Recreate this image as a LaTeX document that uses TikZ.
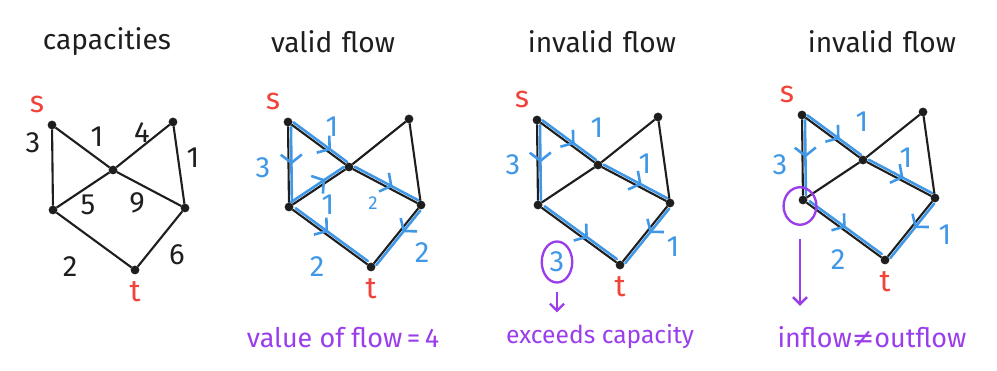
\documentclass[tikz,border=0pt]{standalone}
\usepackage{fontspec}
\setmainfont{Fira Sans}
\newfontfamily\symfont{DejaVu Sans}
\usetikzlibrary{positioning,calc,arrows.meta,decorations.markings,shapes.geometric}

\definecolor{inkblack}{HTML}{1E1E1E}
\definecolor{endred}{HTML}{F0433A}
\definecolor{flowblue}{HTML}{3F97E6}
\definecolor{notepurple}{HTML}{9A3DEB}

\tikzset{
  vtx/.style={circle, draw=inkblack, fill=inkblack, inner sep=0pt, minimum size=7pt},
  edge/.style={draw=inkblack, line width=1.8pt},
  endlbl/.style={text=endred, font=\fontsize{26}{26}\selectfont},
  headline/.style={text=inkblack, font=\fontsize{24}{24}\selectfont},
  capnum/.style={text=inkblack, font=\fontsize{25}{25}\selectfont},
  flownum/.style={text=flowblue, font=\fontsize{25}{25}\selectfont},
  note/.style={text=notepurple, font=\fontsize{23}{23}\selectfont},
  ring/.style={ellipse, draw=notepurple, line width=2pt, inner sep=0pt},
  notearrow/.style={draw=notepurple, line width=2pt, -{Straight Barb[length=6pt,width=12pt]}},
  flowline/.style={draw=flowblue, line width=2.2pt, line cap=round,
    to path={($(\tikztostart)!0.06!(\tikztotarget)!2.5pt!90:(\tikztotarget)$)
      -- ($(\tikztotarget)!0.06!(\tikztostart)!2.5pt!-90:(\tikztostart)$)},
    postaction={decorate},
    decoration={markings, mark=at position #1 with {\arrow{Straight Barb[length=7pt,width=18pt]}}}},
  flowline/.default=0.5
}

% one copy of the network, node names start with #1
\newcommand\flownet[1]{%
  \node[vtx] (#1-s)  at (52,125) {};
  \node[vtx] (#1-tr) at (173,122) {};
  \node[vtx] (#1-c)  at (113,170) {};
  \node[vtx] (#1-lb) at (53,210) {};
  \node[vtx] (#1-rb) at (185,208) {};
  \node[vtx] (#1-t)  at (135,270) {};
  \node[endlbl] (#1-slbl) at (37,104) {s};
  \node[endlbl] (#1-tlbl) at (135,292) {t};
  \draw[edge] (#1-s) -- (#1-c) -- (#1-tr) -- (#1-rb) -- (#1-t) -- (#1-lb) -- (#1-s);
  \draw[edge] (#1-lb) -- (#1-c) -- (#1-rb);
}

\begin{document}
\begin{tikzpicture}[x=0.03cm, y=-0.03cm]
  \useasboundingbox (0,0) rectangle (997,371);

  % titles
  \node[headline] (t1) at (107,42) {capacities};
  \node[headline] (t2) at (333,42) {valid\,\,flow};
  \node[headline] (t3) at (602,42) {invalid\,\,flow};
  \node[headline] (t4) at (882,42) {invalid\,\,flow};

  % capacities
  \flownet{a}
  \node[capnum] at (33,143) {3};
  \node[capnum] at (97,137) {1};
  \node[capnum] at (142,133) {4};
  \node[capnum] at (193,158) {1};
  \node[capnum] at (88,205) {5};
  \node[capnum] at (137,203) {9};
  \node[capnum] at (70,267) {2};
  \node[capnum] at (177,255) {6};

  % valid flow
  \begin{scope}[shift={(236,-3)}]
    \flownet{b}
  \end{scope}
  \draw[flowline] (b-s) to (b-lb);
  \draw[flowline=0.7] (b-s) to (b-c);
  \draw[flowline=0.65] (b-lb) to (b-c);
  \draw[flowline=0.6] (b-c) to (b-rb);
  \draw[flowline=0.4] (b-rb) to (b-t);
  \draw[flowline=0.45] (b-lb) to (b-t);
  \node[flownum] at (263,168) {3};
  \node[flownum] at (332,127) {1};
  \node[flownum] at (328,205) {1};
  \node[flownum, font=\fontsize{16}{16}\selectfont] at (373,203) {2};
  \node[flownum] at (422,253) {2};
  \node[flownum] at (317,267) {2};
  \node[note] (b-note) at (343,338) {value of flow\,=\,4};

  % invalid flow: capacity
  \begin{scope}[shift={(485,-5)}]
    \flownet{c}
  \end{scope}
  \draw[flowline] (c-s) to (c-lb);
  \draw[flowline=0.6] (c-s) to (c-c);
  \draw[flowline=0.6] (c-c) to (c-rb);
  \draw[flowline=0.45] (c-rb) to (c-t);
  \draw[flowline=0.6] (c-lb) to (c-t);
  \node[flownum] at (513,165) {3};
  \node[flownum] at (597,128) {1};
  \node[flownum] at (645,164) {1};
  \node[flownum] at (673,247) {1};
  \node[flownum, ring, minimum width=26pt, minimum height=35pt] (c-ring) at (557,262) {3};
  \node[note, font=\fontsize{21}{21}\selectfont] (c-note) at (600,337) {exceeds capacity};
  \draw[notearrow, shorten <=7pt, shorten >=7pt] (c-ring) -- (c-ring |- c-note.north);

  % invalid flow: conservation
  \begin{scope}[shift={(750,-10)}]
    \flownet{d}
  \end{scope}
  \draw[flowline] (d-s) to (d-lb);
  \draw[flowline=0.6] (d-s) to (d-c);
  \draw[flowline=0.55] (d-c) to (d-rb);
  \draw[flowline=0.45] (d-rb) to (d-t);
  \draw[flowline=0.5] (d-lb) to (d-t);
  \node[flownum] at (780,165) {3};
  \node[flownum] at (862,122) {1};
  \node[flownum] at (906,158) {1};
  \node[flownum] at (945,235) {1};
  \node[flownum] at (838,260) {2};
  \node[ring, minimum width=28pt, minimum height=32pt] (d-ring) at (800,206) {};
  \node[note] (d-note) at (872,337) {inflow{\symfont ≠}outflow};
  \draw[notearrow, shorten <=11pt, shorten >=14pt] (d-ring) -- (d-ring |- d-note.north);
\end{tikzpicture}
\end{document}
